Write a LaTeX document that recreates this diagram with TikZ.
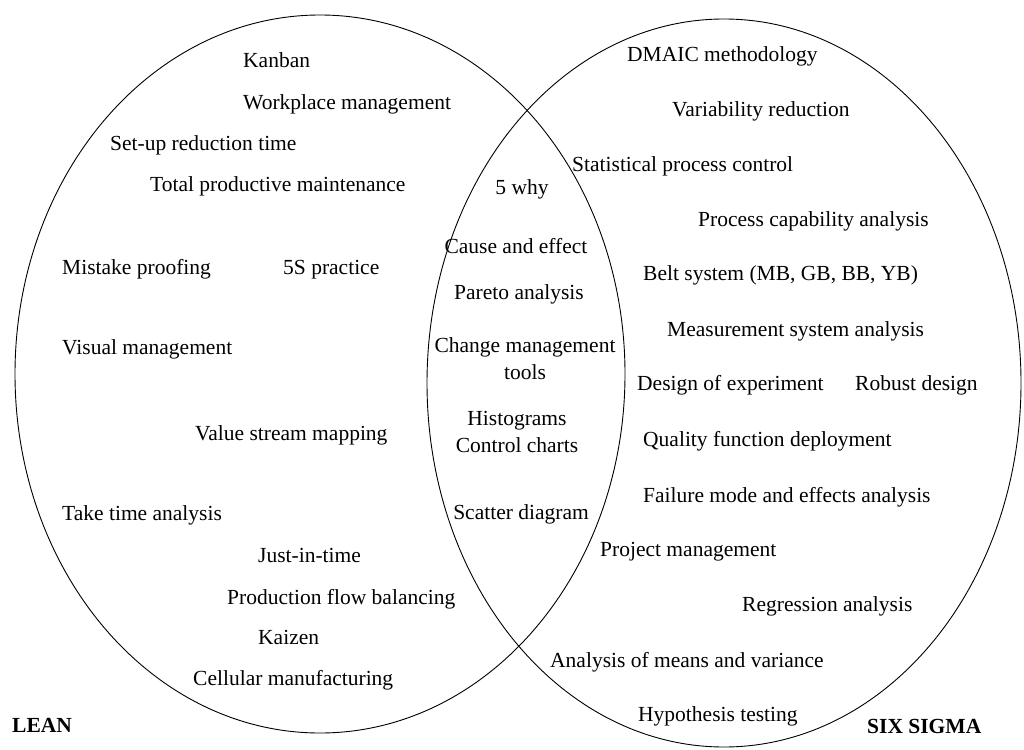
\documentclass[tikz,border=0pt]{standalone}
\usepackage{fontspec}
\setmainfont{Liberation Serif}
\usetikzlibrary{positioning}

\tikzset{
  item/.style={anchor=west, inner sep=0pt, text height=0.68em, text depth=0.22em,
    font=\fontsize{21.5}{27}\selectfont},
  mid/.style={item, anchor=center, align=center},
  setname/.style={item, font=\fontsize{21.5}{27}\selectfont\bfseries},
  set/.style={line width=0.9pt}
}

\begin{document}
\begin{tikzpicture}[x=1pt, y=-1pt]
				\useasboundingbox (0,0) rectangle (1024,749);
				% the two sets
				\draw[set] (320,374) ellipse [x radius=305pt, y radius=359pt];
				\draw[set] (724,383) ellipse [x radius=297pt, y radius=364pt];
				% lean only
				\node[item] (kanban) at (243,65) {Kanban};
				\node[item] (workplace) at (243,107) {Workplace management};
				\node[item] (setup) at (110,148) {Set-up reduction time};
				\node[item] (tpm) at (150,189) {Total productive maintenance};
				\node[item] (mistake) at (62,272) {Mistake proofing};
				\node[item] (fives) at (283,272) {5S practice};
				\node[item] (visual) at (62,352) {Visual management};
				\node[item] (vsm) at (195,438) {Value stream mapping};
				\node[item] (takt) at (62,518) {Take time analysis};
				\node[item] (jit) at (258,560) {Just-in-time};
				\node[item] (flow) at (227,602) {Production flow balancing};
				\node[item] (kaizen) at (258,642) {Kaizen};
				\node[item] (cellular) at (193,683) {Cellular manufacturing};
				\node[setname] (lean) at (12,730) {LEAN};
				% both
				\node[mid] (fivewhy) at (522,192) {5 why};
				\node[mid] (cause) at (516,251) {Cause and effect};
				\node[mid] (pareto) at (519,297) {Pareto analysis};
				\node[mid] (change) at (525,377) {Change management\\tools};
				\node[mid] (histo) at (517,450) {Histograms\\Control charts};
				\node[mid] (scatter) at (521,517) {Scatter diagram};
				% six sigma only
				\node[item] (dmaic) at (627,59) {DMAIC methodology};
				\node[item] (variab) at (672,114) {Variability reduction};
				\node[item] (spc) at (572,169) {Statistical process control};
				\node[item] (capab) at (698,224) {Process capability analysis};
				\node[item] (belt) at (643,278) {Belt system (MB, GB, BB, YB)};
				\node[item] (msa) at (667,334) {Measurement system analysis};
				\node[item] (doe) at (637,388) {Design of experiment};
				\node[item] (robust) at (855,388) {Robust design};
				\node[item] (qfd) at (643,444) {Quality function deployment};
				\node[item] (fmea) at (643,500) {Failure mode and effects analysis};
				\node[item] (project) at (600,554) {Project management};
				\node[item] (regress) at (742,609) {Regression analysis};
				\node[item] (anova) at (550,665) {Analysis of means and variance};
				\node[item] (hypo) at (638,719) {Hypothesis testing};
				\node[setname] (sixsigma) at (867,731) {SIX SIGMA};
			\end{tikzpicture}
\end{document}
